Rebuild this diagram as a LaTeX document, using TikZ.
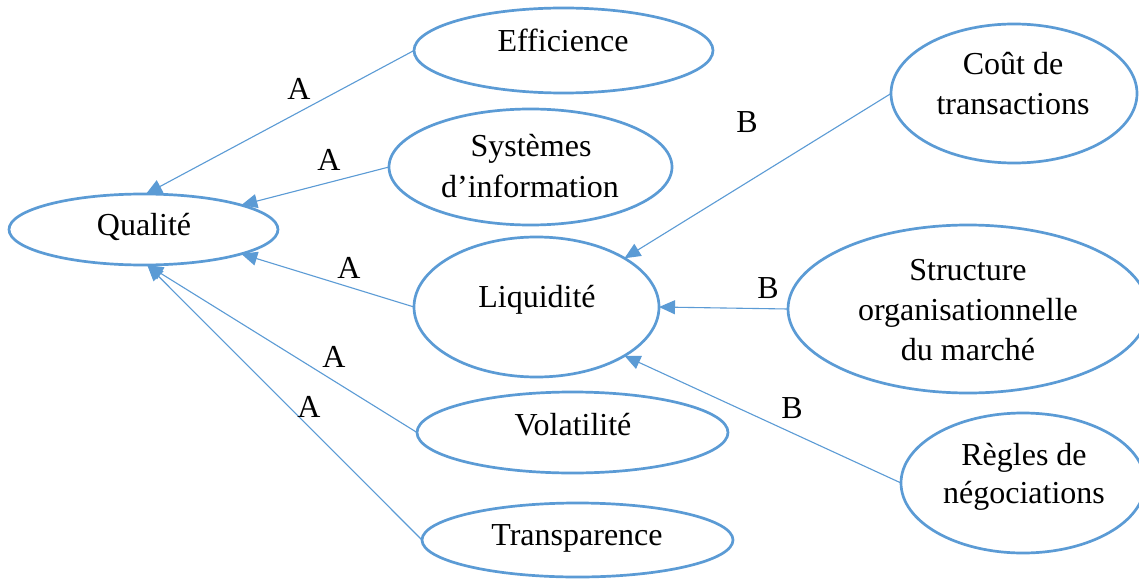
\documentclass[tikz,border=0pt]{standalone}
\usepackage{fontspec}
\setmainfont{Liberation Serif}
\usetikzlibrary{shapes.geometric,arrows.meta}
\definecolor{myblue}{HTML}{5B9BD5}
\begin{document}
\begin{tikzpicture}[x=1pt,y=-1pt,
  oval/.style={draw=myblue, line width=2.7pt, ellipse, inner sep=0pt, outer sep=0pt},
  txt/.style={anchor=base, inner sep=0pt, font=\fontsize{32}{40}\selectfont},
  lbl/.style={txt},
  conn/.style={draw=myblue, line width=1.1pt, -{Triangle[length=16pt,width=14pt]}}
]
\useasboundingbox (0,0) rectangle (1139,580);
\clip (0,0) rectangle (1139,580);
\fill[white] (0,0) rectangle (1139,580);

% ellipses
\node[oval, minimum width=269pt, minimum height=71pt] (qual) at (143.5,229.5) {};
\node[oval, minimum width=299pt, minimum height=85pt] (eff) at (563.5,50.5) {};
\node[oval, minimum width=283pt, minimum height=116pt] (sys) at (530.5,167) {};
\node[oval, minimum width=245pt, minimum height=140pt] (liq) at (536.5,307) {};
\node[oval, minimum width=311pt, minimum height=81pt] (vol) at (572.5,432.5) {};
\node[oval, minimum width=311pt, minimum height=74pt] (tra) at (577.5,540) {};
\node[oval, minimum width=246pt, minimum height=139pt] (cout) at (1014,93.5) {};
\node[oval, minimum width=360pt, minimum height=168pt] (struc) at (968,309) {};
\node[oval, minimum width=244pt, minimum height=140pt] (regl) at (1023,483) {};

% texts
\node[txt] (qual-t) at (144,235) {Qualité};
\node[txt] (eff-t) at (563,52) {Efficience};
\node[txt] (sys-t1) at (531,157) {Systèmes};
\node[txt] (sys-t2) at (530,197) {d’information};
\node[txt] (liq-t) at (537,307) {Liquidité};
\node[txt] (vol-t) at (573,435) {Volatilité};
\node[txt] (tra-t) at (577,545) {Transparence};
\node[txt] (cout-t1) at (1013,75) {Coût de};
\node[txt] (cout-t2) at (1013,115) {transactions};
\node[txt] (struc-t1) at (968,280) {Structure};
\node[txt] (struc-t2) at (968,320) {organisationnelle};
\node[txt] (struc-t3) at (968,360) {du marché};
\node[txt] (regl-t1) at (1024,465) {Règles de};
\node[txt] (regl-t2) at (1024,503) {négociations};

% connectors
\draw[conn] (eff.west) -- (qual.86);
\draw[conn] (sys.west) -- (qual.14);
\draw[conn] (liq.west) -- (qual.-14);
\draw[conn] (vol.west) -- (qual.-84);
\draw[conn] (tra.west) -- (qual.-84);
\draw[conn] (cout.west) -- (liq.29);
\draw[conn] (struc.west) -- (liq.east);
\draw[conn] (regl.west) -- (liq.-29);

% labels
\node[lbl] (la1) at (299,100) {A};
\node[lbl] (la2) at (329,171) {A};
\node[lbl] (la3) at (349,278) {A};
\node[lbl] (la4) at (334,367) {A};
\node[lbl] (la5) at (309,417) {A};
\node[lbl] (lb1) at (747,133) {B};
\node[lbl] (lb2) at (768,298) {B};
\node[lbl] (lb3) at (792,418) {B};
\end{tikzpicture}
\end{document}
